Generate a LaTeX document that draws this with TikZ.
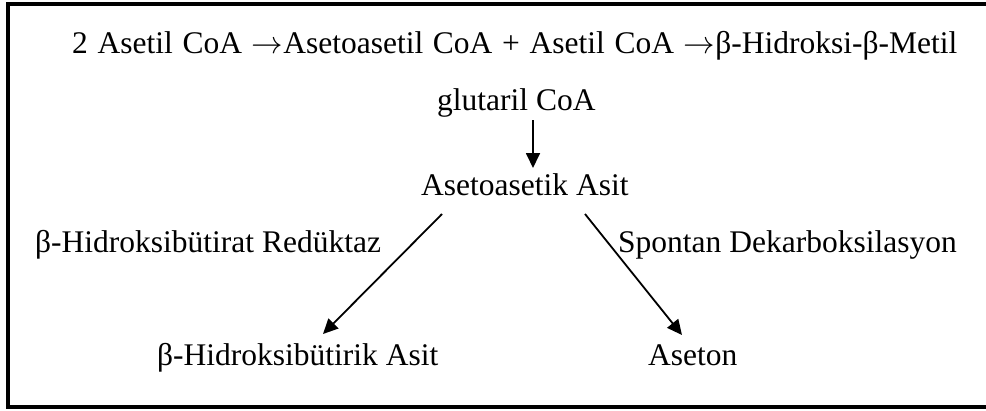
\RequirePackage{fix-cm}
\documentclass[tikz,border=0pt]{standalone}
\usepackage{fontspec}
\setmainfont{Liberation Serif}
\usetikzlibrary{arrows.meta,calc}
\newcommand{\rarr}{$\rightarrow$}
\begin{document}
\begin{tikzpicture}[x=1pt,y=-1pt,
  lbl/.style={anchor=base west,inner sep=0pt,font=\fontsize{31.5}{36}\selectfont},
  arr/.style={line width=1.8pt,-{Triangle[length=15pt,width=14pt]}}]
\useasboundingbox (0,0) rectangle (986,410);
\draw[line width=4pt] (8,4) rectangle (994,407);
\node[lbl] (top) at (72,53) {\spaceskip=9.7pt 2 Asetil CoA \rarr Asetoasetil CoA + Asetil CoA \rarr β-Hidroksi-β-Metil};
\node[lbl] (glu) at (437,110) {glutaril CoA};
\node[lbl] (aa) at (421,195) {Asetoasetik Asit};
\node[lbl] (enz1) at (35,252) {β-Hidroksibütirat Redüktaz};
\node[lbl] (enz2) at (618,252) {Spontan Dekarboksilasyon};
\node[lbl] (hb) at (157,365) {β-Hidroksibütirik Asit};
\node[lbl] (ase) at (648,365) {Aseton};
\draw[arr] ($(glu.base west)+(96,10)$) -- ($(aa.base west)+(112,-27)$);
\draw[arr] ($(aa.base west)+(21,19)$) -- ($(hb.base west)+(166,-31)$);
\draw[arr] ($(aa.base west)+(164,19)$) -- ($(ase.base west)+(34,-30)$);
\end{tikzpicture}
\end{document}
